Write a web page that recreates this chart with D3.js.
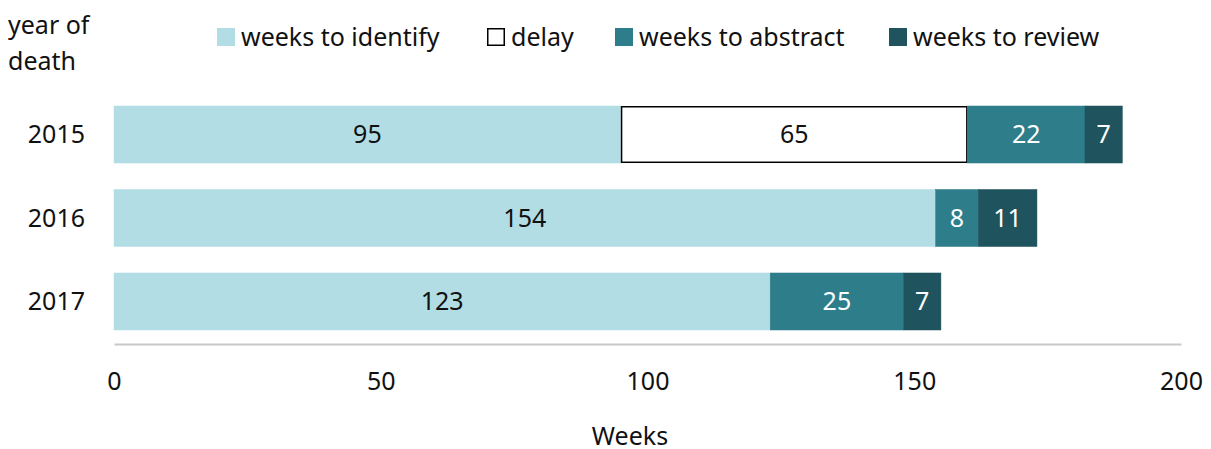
<!DOCTYPE html>
<html>
<head>
<meta charset="utf-8">
<script src="https://cdn.jsdelivr.net/npm/d3@7"></script>
<style>
  body { margin: 0; background: #fff; }
  text { font-family: "Noto Sans", "Open Sans", sans-serif; }
</style>
</head>
<body>
<svg width="1211" height="449"></svg>
<script>
// data
var years = ["2015", "2016", "2017"];
var identify = [95, 154, 123];
var delay = [65, 0, 0];
var abstractW = [22, 8, 25];
var review = [7, 11, 7];
var xTicks = [0, 50, 100, 150, 200];

var seriesNames = ["weeks to identify", "delay", "weeks to abstract", "weeks to review"];
var seriesKeys = ["identify", "delay", "abstract", "review"];
var fills = ["#b2dde5", "#ffffff", "#2e7d8a", "#1f535d"];
var strokes = ["#b2dde5", "#000000", "#2e7d8a", "#1f535d"];
var labelColors = ["#111", "#111", "#fff", "#fff"];

var rows = years.map(function(y, i) {
  return { year: y, identify: identify[i], delay: delay[i], abstract: abstractW[i], review: review[i] };
});

var svg = d3.select("svg");

var x = d3.scaleLinear().domain([0, 200]).range([114, 1181]);
var y = d3.scaleBand().domain(years).range([72.6, 363.4]).paddingInner(0.317).paddingOuter(0.4);

var stacked = d3.stack().keys(seriesKeys)(rows);

// bars
var layers = svg.selectAll("g.layer")
  .data(stacked)
  .enter().append("g")
  .attr("class", "layer");

layers.each(function(layer, li) {
  var g = d3.select(this);
  var segs = layer.filter(function(d) { return d[1] - d[0] > 0; });
  g.selectAll("rect")
    .data(segs)
    .enter().append("rect")
    .attr("x", function(d) { return x(d[0]) + (li == 1 ? 0.75 : 0); })
    .attr("y", function(d) { return y(d.data.year) + (li == 1 ? 0.75 : 0); })
    .attr("width", function(d) { return x(d[1]) - x(d[0]) - (li == 1 ? 1.5 : 0); })
    .attr("height", y.bandwidth() - (li == 1 ? 1.5 : 0))
    .attr("fill", fills[li])
    .attr("stroke", strokes[li])
    .attr("stroke-width", li == 1 ? 1.5 : 0.5);
  g.selectAll("text")
    .data(segs)
    .enter().append("text")
    .attr("x", function(d) { return (x(d[0]) + x(d[1])) / 2; })
    .attr("y", function(d) { return y(d.data.year) + y.bandwidth() / 2; })
    .attr("dy", "0.35em")
    .attr("text-anchor", "middle")
    .attr("font-size", 25)
    .attr("fill", labelColors[li])
    .text(function(d) { return d[1] - d[0]; });
});

// category labels
svg.selectAll("text.cat")
  .data(years)
  .enter().append("text")
  .attr("class", "cat")
  .attr("x", 85)
  .attr("y", function(d) { return y(d) + y.bandwidth() / 2; })
  .attr("dy", "0.35em")
  .attr("text-anchor", "end")
  .attr("font-size", 25)
  .attr("fill", "#111")
  .text(function(d) { return d; });

// x axis
var xAxis = svg.append("g")
  .attr("transform", "translate(0,344)")
  .call(d3.axisBottom(x).tickValues(xTicks).tickSize(0).tickPadding(28).tickSizeOuter(0));
xAxis.select(".domain").attr("stroke", "#c8c8c8").attr("stroke-width", 2);
xAxis.selectAll("text")
  .attr("font-size", 25)
  .attr("fill", "#111")
  .style("font-family", "'Noto Sans', sans-serif");

svg.append("text")
  .attr("x", 630)
  .attr("y", 436)
  .attr("dy", "0.35em")
  .attr("text-anchor", "middle")
  .attr("font-size", 25)
  .attr("fill", "#111")
  .text("Weeks");

// y title
svg.append("text")
  .attr("x", 8)
  .attr("y", 25)
  .attr("dy", "0.35em")
  .attr("font-size", 25)
  .attr("fill", "#111")
  .text("year of");
svg.append("text")
  .attr("x", 8)
  .attr("y", 61)
  .attr("dy", "0.35em")
  .attr("font-size", 25)
  .attr("fill", "#111")
  .text("death");

// legend
var legendX = [217, 487, 615, 889];
var legend = svg.selectAll("g.legend")
  .data(seriesNames)
  .enter().append("g")
  .attr("class", "legend")
  .attr("transform", function(d, i) { return "translate(" + legendX[i] + ",28)"; });
legend.append("rect")
  .attr("x", function(d, i) { return i == 1 ? 0.75 : 0; })
  .attr("y", function(d, i) { return i == 1 ? 0.75 : 0; })
  .attr("width", function(d, i) { return i == 1 ? 16.5 : 18; })
  .attr("height", function(d, i) { return i == 1 ? 16.5 : 18; })
  .attr("fill", function(d, i) { return fills[i]; })
  .attr("stroke", function(d, i) { return i == 1 ? "#000" : "none"; })
  .attr("stroke-width", 1.5);
legend.append("text")
  .attr("x", 24)
  .attr("y", 9)
  .attr("dy", "0.35em")
  .attr("font-size", 25)
  .attr("fill", "#111")
  .text(function(d) { return d; });
</script>
</body>
</html>
